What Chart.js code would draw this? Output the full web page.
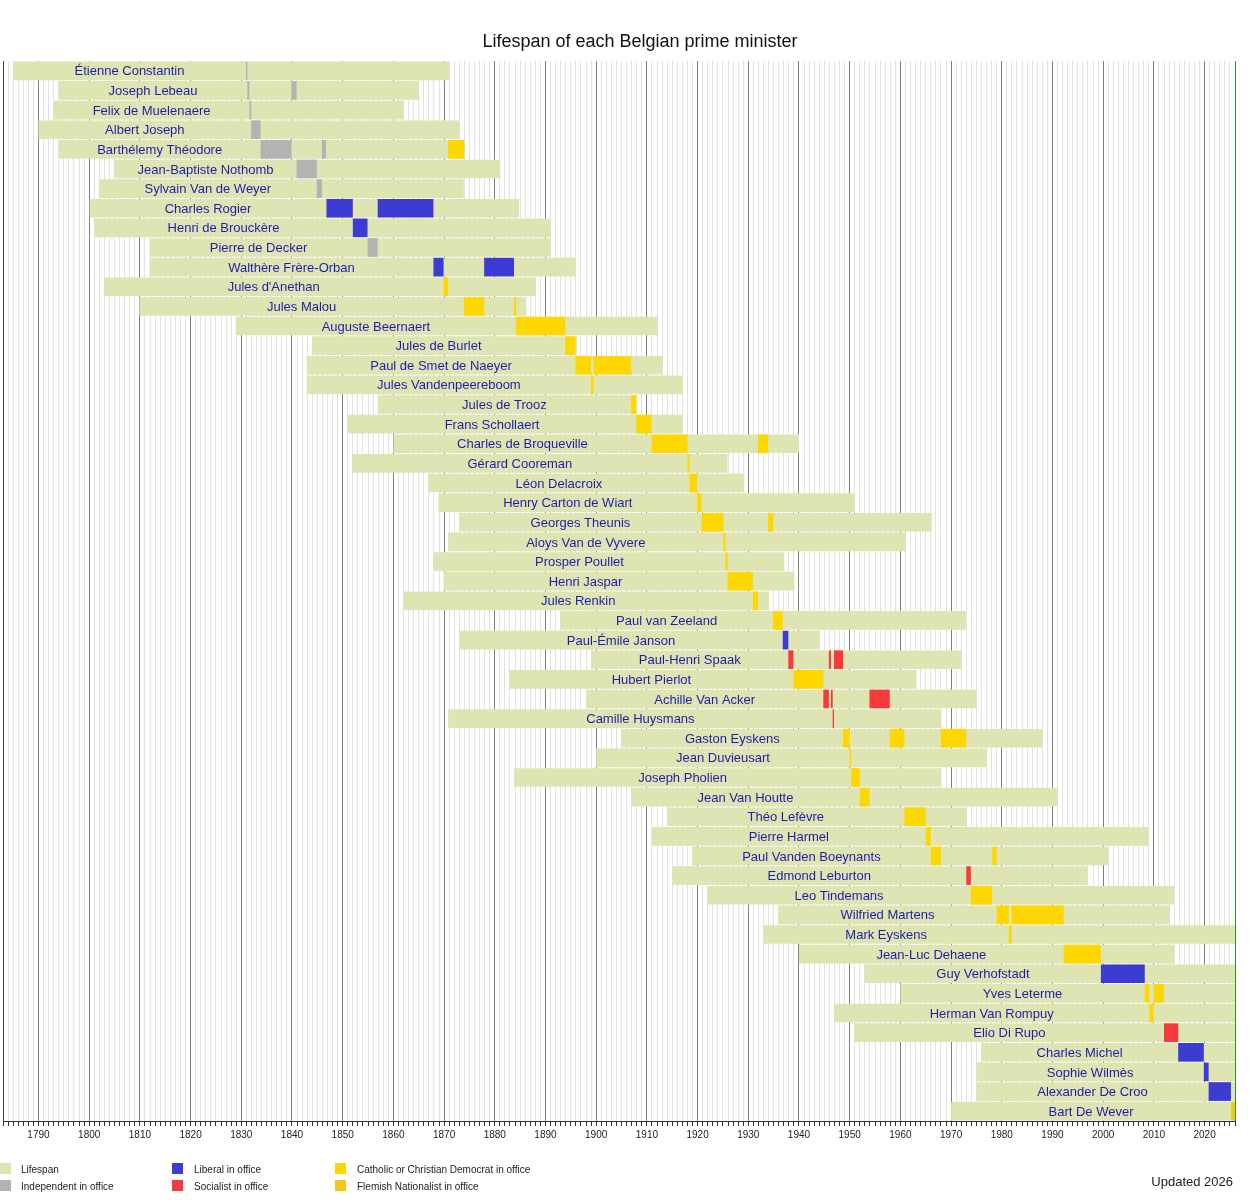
<!DOCTYPE html>
<html>
<head>
<meta charset="utf-8">
<title>Lifespan of each Belgian prime minister</title>
<script src="https://cdn.jsdelivr.net/npm/chart.js@4.4.1/dist/chart.umd.min.js"></script>
<style>
  body { margin: 0; background: #fff; font-family: "Liberation Sans", Arial, sans-serif; overflow: hidden; }
  #wrap { position: relative; width: 1250px; height: 1200px; }
  #chart { position: absolute; left: 0; top: 0; }
  .title { position: absolute; left: 440px; width: 400px; top: 31px; text-align: center; font-size: 18px; color: #111; }
  .key { position: absolute; width: 11px; height: 11px; }
  .keytext { position: absolute; font-size: 10px; color: #222; line-height: 12px; }
  .updated { position: absolute; right: 17px; top: 1174px; font-size: 13px; color: #222; }
</style>
</head>
<body>
<div id="wrap">
  <canvas id="chart" width="1250" height="1200"></canvas>
  <div class="title">Lifespan of each Belgian prime minister</div>

  <div class="key" style="left:0;top:1163px;background:#dfe4b3"></div>
  <div class="keytext" style="left:21px;top:1164px">Lifespan</div>
  <div class="key" style="left:0;top:1180px;background:#b3b3b3"></div>
  <div class="keytext" style="left:21px;top:1181px">Independent in office</div>

  <div class="key" style="left:172px;top:1163px;background:#3c3cd2"></div>
  <div class="keytext" style="left:194px;top:1164px">Liberal in office</div>
  <div class="key" style="left:172px;top:1180px;background:#f83a3a"></div>
  <div class="keytext" style="left:194px;top:1181px">Socialist in office</div>

  <div class="key" style="left:335px;top:1163px;background:#ffd700"></div>
  <div class="keytext" style="left:357px;top:1164px">Catholic or Christian Democrat in office</div>
  <div class="key" style="left:335px;top:1180px;background:#f2c81e"></div>
  <div class="keytext" style="left:357px;top:1181px">Flemish Nationalist in office</div>

  <div class="updated">Updated 2026</div>
</div>

<script>
// Years (decimal years)
const UPDATED = 2026;

const names = [
    'Étienne Constantin', 'Joseph Lebeau', 'Felix de Muelenaere', 'Albert Joseph',
    'Barthélemy Théodore', 'Jean-Baptiste Nothomb', 'Sylvain Van de Weyer', 'Charles Rogier',
    'Henri de Brouckère', 'Pierre de Decker', 'Walthère Frère-Orban', "Jules d'Anethan",
    'Jules Malou', 'Auguste Beernaert', 'Jules de Burlet', 'Paul de Smet de Naeyer',
    'Jules Vandenpeereboom', 'Jules de Trooz', 'Frans Schollaert', 'Charles de Broqueville',
    'Gérard Cooreman', 'Léon Delacroix', 'Henry Carton de Wiart', 'Georges Theunis',
    'Aloys Van de Vyvere', 'Prosper Poullet', 'Henri Jaspar', 'Jules Renkin',
    'Paul van Zeeland', 'Paul-Émile Janson', 'Paul-Henri Spaak', 'Hubert Pierlot',
    'Achille Van Acker', 'Camille Huysmans', 'Gaston Eyskens', 'Jean Duvieusart',
    'Joseph Pholien', 'Jean Van Houtte', 'Théo Lefèvre', 'Pierre Harmel',
    'Paul Vanden Boeynants', 'Edmond Leburton', 'Leo Tindemans', 'Wilfried Martens',
    'Mark Eyskens', 'Jean-Luc Dehaene', 'Guy Verhofstadt', 'Yves Leterme',
    'Herman Van Rompuy', 'Elio Di Rupo', 'Charles Michel', 'Sophie Wilmès',
    'Alexander De Croo', 'Bart De Wever'
];

const born = [
    1785.0, 1794.0, 1793.0, 1790.0, 1794.0, 1805.0, 1801.9, 1800.1,
    1801.0, 1811.9, 1811.9, 1802.9, 1809.9, 1828.9, 1843.9, 1842.9,
    1842.9, 1856.9, 1851.0, 1860.0, 1851.9, 1866.9, 1868.9, 1873.0,
    1870.8, 1867.9, 1869.9, 1862.0, 1892.9, 1873.0, 1899.0, 1882.9,
    1898.0, 1870.8, 1905.0, 1900.0, 1883.8, 1906.9, 1914.0, 1911.0,
    1918.9, 1915.0, 1921.9, 1935.9, 1933.0, 1940.0, 1953.0, 1960.0,
    1946.9, 1951.0, 1975.9, 1975.0, 1975.0, 1970.0
];

// null = still alive
const died = [
    1871.0, 1865.1, 1862.1, 1873.1, 1874.0, 1881.1, 1873.9, 1884.8,
    1891.0, 1891.0, 1895.9, 1888.1, 1886.2, 1912.1, 1896.2, 1913.1,
    1917.1, 1907.9, 1917.1, 1940.0, 1925.9, 1929.2, 1951.0, 1966.2,
    1961.0, 1937.1, 1939.1, 1934.1, 1972.9, 1944.1, 1972.0, 1963.2,
    1975.0, 1968.1, 1988.0, 1977.1, 1968.1, 1991.0, 1973.0, 2009.0,
    2001.0, 1996.9, 2014.0, 2013.0, null, 2014.0, null, null,
    null, null, null, null, null, null
];

// Terms in office: [name, start, end]
const independentTerms = [
    ['Étienne Constantin', 1830.9, 1831.2],
    ['Joseph Lebeau', 1831.2, 1831.6],
    ['Joseph Lebeau', 1839.9, 1840.9],
    ['Felix de Muelenaere', 1831.6, 1831.95],
    ['Albert Joseph', 1831.95, 1833.8],
    ['Barthélemy Théodore', 1833.8, 1839.9],
    ['Barthélemy Théodore', 1845.9, 1846.7],
    ['Jean-Baptiste Nothomb', 1840.9, 1844.9],
    ['Sylvain Van de Weyer', 1844.9, 1845.9],
    ['Pierre de Decker', 1854.9, 1856.9]
];

const liberalTerms = [
    ['Charles Rogier', 1846.8, 1852.0],
    ['Charles Rogier', 1856.9, 1867.9],
    ['Henri de Brouckère', 1852.0, 1854.9],
    ['Walthère Frère-Orban', 1867.9, 1869.9],
    ['Walthère Frère-Orban', 1877.9, 1883.8],
    ['Paul-Émile Janson', 1936.8, 1937.9],
    ['Guy Verhofstadt', 1999.55, 2008.2],
    ['Charles Michel', 2014.8, 2019.85],
    ['Sophie Wilmès', 2019.85, 2020.8],
    ['Alexander De Croo', 2020.8, 2025.2]
];

const socialistTerms = [
    ['Paul-Henri Spaak', 1937.9, 1938.9],
    ['Paul-Henri Spaak', 1945.9, 1946.3],
    ['Paul-Henri Spaak', 1946.9, 1948.7],
    ['Achille Van Acker', 1944.8, 1945.9],
    ['Achille Van Acker', 1946.3, 1946.65],
    ['Achille Van Acker', 1953.9, 1957.9],
    ['Camille Huysmans', 1946.65, 1946.9],
    ['Edmond Leburton', 1973.0, 1973.9],
    ['Elio Di Rupo', 2012.0, 2014.8]
];

const catholicTerms = [
    ['Barthélemy Théodore', 1870.8, 1874.0],
    ["Jules d'Anethan", 1869.9, 1870.8],
    ['Jules Malou', 1873.9, 1877.9],
    ['Jules Malou', 1883.8, 1884.2],
    ['Auguste Beernaert', 1884.2, 1893.9],
    ['Jules de Burlet', 1893.9, 1895.9],
    ['Paul de Smet de Naeyer', 1895.9, 1899.0],
    ['Paul de Smet de Naeyer', 1899.5, 1906.9],
    ['Jules Vandenpeereboom', 1899.0, 1899.5],
    ['Jules de Trooz', 1906.9, 1907.9],
    ['Frans Schollaert', 1907.9, 1910.9],
    ['Charles de Broqueville', 1910.9, 1918.0],
    ['Charles de Broqueville', 1931.9, 1933.9],
    ['Gérard Cooreman', 1918.0, 1918.4],
    ['Léon Delacroix', 1918.4, 1919.9],
    ['Henry Carton de Wiart', 1919.9, 1920.8],
    ['Georges Theunis', 1920.8, 1925.1],
    ['Georges Theunis', 1933.9, 1934.9],
    ['Aloys Van de Vyvere', 1925.1, 1925.5],
    ['Prosper Poullet', 1925.5, 1925.9],
    ['Henri Jaspar', 1925.9, 1930.9],
    ['Jules Renkin', 1930.9, 1931.9],
    ['Paul van Zeeland', 1934.9, 1936.8],
    ['Hubert Pierlot', 1938.9, 1944.8],
    ['Gaston Eyskens', 1948.7, 1950.0],
    ['Gaston Eyskens', 1957.9, 1960.8],
    ['Gaston Eyskens', 1968.0, 1973.0],
    ['Jean Duvieusart', 1950.0, 1950.3],
    ['Joseph Pholien', 1950.3, 1952.0],
    ['Jean Van Houtte', 1952.0, 1953.9],
    ['Théo Lefèvre', 1960.8, 1965.0],
    ['Pierre Harmel', 1965.0, 1966.0],
    ['Paul Vanden Boeynants', 1966.0, 1968.0],
    ['Paul Vanden Boeynants', 1978.1, 1979.0],
    ['Leo Tindemans', 1973.9, 1978.1],
    ['Wilfried Martens', 1979.0, 1981.4],
    ['Wilfried Martens', 1981.9, 1992.2],
    ['Mark Eyskens', 1981.4, 1981.9],
    ['Jean-Luc Dehaene', 1992.2, 1999.55],
    ['Yves Leterme', 2008.2, 2009.1],
    ['Yves Leterme', 2009.95, 2012.0],
    ['Herman Van Rompuy', 2009.1, 2009.95]
];

const flemishTerms = [
    ['Bart De Wever', 2025.2, 2026.0]
];

const FONT = '"Liberation Sans", Arial, sans-serif';

function termData(terms) {
    return terms.map(t => ({ y: t[0], x: [t[1], t[2]] }));
}

// first time in office, used to place each name
const allTerms = [].concat(independentTerms, liberalTerms, socialistTerms, catholicTerms, flemishTerms);
const firstStart = names.map(n => Math.min(...allTerms.filter(t => t[0] === n).map(t => t[1])));

const nameLabels = {
    id: 'nameLabels',
    afterDatasetsDraw(chart) {
        const ctx = chart.ctx;
        const xs = chart.scales.x, ys = chart.scales.y;
        ctx.save();
        ctx.font = '13px ' + FONT;
        ctx.fillStyle = '#1e1eaa';
        ctx.textAlign = 'center';
        ctx.textBaseline = 'middle';
        names.forEach((n, i) => {
            const cx = (xs.getPixelForValue(born[i]) + xs.getPixelForValue(firstStart[i])) / 2;
            ctx.fillText(n, cx, ys.getPixelForValue(i) + 1);
        });
        ctx.restore();
    }
};

new Chart(document.getElementById('chart'), {
    type: 'bar',
    data: {
        labels: names,
        datasets: [
            { label: 'Independent in office', data: termData(independentTerms), backgroundColor: '#b3b3b3', order: 1 },
            { label: 'Liberal in office', data: termData(liberalTerms), backgroundColor: '#3c3cd2', order: 1 },
            { label: 'Socialist in office', data: termData(socialistTerms), backgroundColor: '#f83a3a', order: 1 },
            { label: 'Catholic or Christian Democrat in office', data: termData(catholicTerms), backgroundColor: '#ffd700', order: 1 },
            { label: 'Flemish Nationalist in office', data: termData(flemishTerms), backgroundColor: '#f2c81e', order: 1 },
            {
                label: 'Lifespan',
                data: born.map((b, i) => [b, died[i] === null ? UPDATED : died[i]]),
                backgroundColor: '#dfe4b3',
                order: 10
            }
        ]
    },
    options: {
        responsive: false,
        animation: false,
        indexAxis: 'y',
        layout: { padding: { top: 61, right: 15, bottom: 56, left: 0 } },
        datasets: {
            bar: { grouped: false, categoryPercentage: 1, barPercentage: 0.95, borderWidth: 0 }
        },
        plugins: {
            legend: { display: false },
            title: { display: false },
            tooltip: { enabled: false }
        },
        scales: {
            x: {
                type: 'linear',
                min: 1783,
                max: UPDATED,
                ticks: {
                    stepSize: 1,
                    autoSkip: false,
                    includeBounds: false,
                    maxRotation: 0,
                    padding: 3,
                    color: '#222',
                    font: { size: 10, family: FONT },
                    callback: v => v % 10 === 0 ? String(v) : ''
                },
                grid: {
                    color: c => {
                        const v = c.tick ? c.tick.value : 0;
                        if (v === UPDATED) return '#1aa01a';
                        return v % 10 === 0 ? '#808080' : '#e2e2e2';
                    },
                    lineWidth: 1,
                    tickLength: 5,
                    tickColor: '#333'
                },
                border: { color: '#333' }
            },
            y: {
                ticks: { display: false },
                grid: { display: false, drawTicks: false },
                border: { display: true, color: '#444' }
            }
        }
    },
    plugins: [nameLabels]
});
</script>
</body>
</html>
